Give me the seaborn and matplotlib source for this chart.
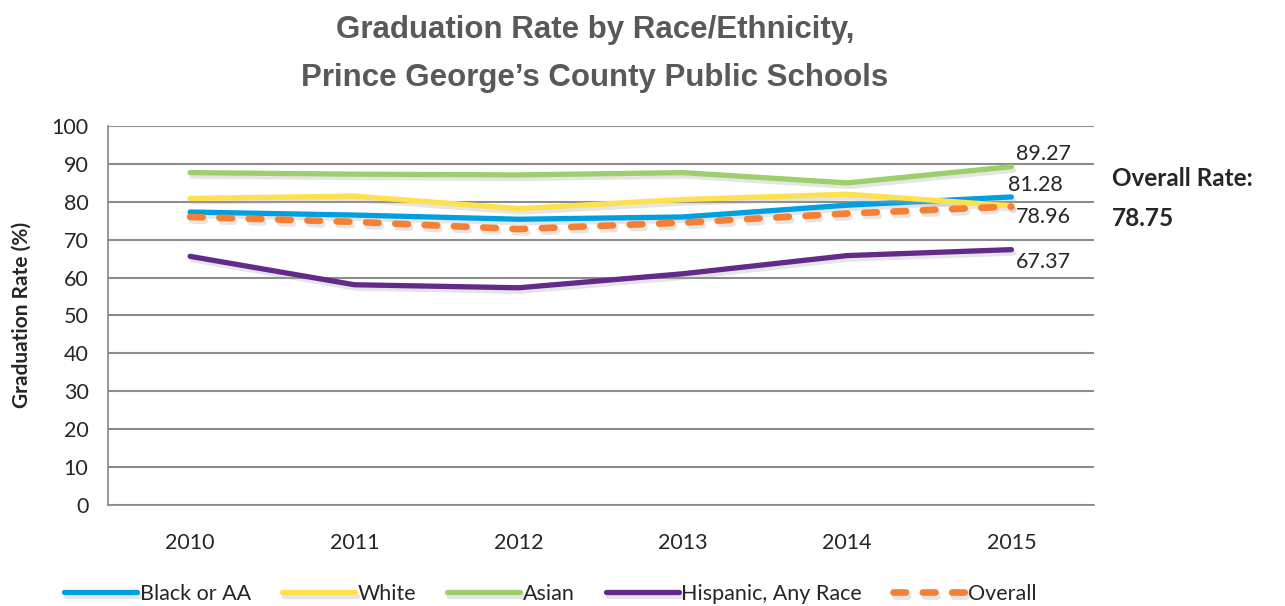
import pandas as pd
import numpy as np
import seaborn as sns
import matplotlib.pyplot as plt
import matplotlib.patheffects as pe

# Data
years = ["2010", "2011", "2012", "2013", "2014", "2015"]
black_aa = [77.3, 76.5, 75.4, 76.0, 79.1, 81.28]
white = [80.9, 81.5, 78.2, 80.6, 82.0, 78.96]
asian = [87.7, 87.3, 87.1, 87.7, 85.0, 89.27]
hispanic = [65.6, 58.1, 57.3, 61.0, 65.8, 67.37]
overall = [76.0, 74.7, 72.8, 74.5, 76.9, 78.75]

series_names = ["Black or AA", "White", "Asian", "Hispanic, Any Race", "Overall"]
series_vals = [black_aa, white, asian, hispanic, overall]
colors = ["#009fdf", "#ffe04d", "#9dd06a", "#632a8b", "#f58034"]

rows = []
for name, vals in zip(series_names, series_vals):
    for i, v in enumerate(vals):
        rows.append({"pos": i, "year": years[i], "rate": v, "group": name})
df = pd.DataFrame(rows)

sns.set_style("white")
plt.rcParams['font.family'] = ['Lato', 'DejaVu Sans']

fig = plt.figure(figsize=(12.85, 6.06), dpi=100)
ax = fig.add_axes([0.084, 0.167, 0.767, 0.625])

shadow = [pe.SimpleLineShadow(offset=(1.5, -2.5), shadow_color="#aaaaaa", alpha=0.3), pe.Normal()]

for name, col in zip(series_names, colors):
    sub = df[df["group"] == name]
    if name == "Overall":
        sns.lineplot(data=sub, x="pos", y="rate", color=col, linewidth=4.8, ax=ax,
                     label=name)
        line = ax.get_lines()[-1]
        line.set_dashes([1.9, 2.5])
        line.set_dash_capstyle("round")
    else:
        sns.lineplot(data=sub, x="pos", y="rate", color=col, linewidth=3.8, ax=ax,
                     label=name)
        line = ax.get_lines()[-1]
        line.set_solid_capstyle("round")
    line.set_path_effects(shadow)

ax.set_xlim(-0.5, 5.5)
ax.set_ylim(0, 100)
ax.set_yticks(range(0, 101, 10))
ax.set_xticks(range(len(years)))
ax.set_xticklabels(years)
ax.set_xticks(np.arange(-0.5, 5.6, 1), minor=True)
ax.tick_params(axis="x", which="major", length=0, labelsize=15.5, pad=20)
ax.tick_params(axis="x", which="minor", length=7, color="#868686", width=1.2, direction="out")
ax.tick_params(axis="y", length=6, color="#868686", width=1.2, direction="out",
               labelsize=15.5, pad=8)
ax.set_xlabel("")
ax.set_ylabel("Graduation Rate (%)", fontsize=15, fontweight="bold", labelpad=14)

ax.yaxis.grid(True, color="#8c8c8c", linewidth=1.5)
ax.set_axisbelow(True)
for s in ["top", "right"]:
    ax.spines[s].set_visible(False)
for s in ["left", "bottom"]:
    ax.spines[s].set_color("#868686")
    ax.spines[s].set_linewidth(1.2)

# End-of-line data labels
last = len(years) - 1
ax.text(last + 0.03, asian[-1] + 0.8, f"{asian[-1]:.2f}", fontsize=15.5, va="bottom", ha="left")
ax.text(last - 0.02, black_aa[-1] + 0.6, f"{black_aa[-1]:.2f}", fontsize=15.5, va="bottom", ha="left")
ax.text(last + 0.03, white[-1] - 0.4, f"{white[-1]:.2f}", fontsize=15.5, va="top", ha="left")
ax.text(last + 0.03, hispanic[-1] - 0.6, f"{hispanic[-1]:.2f}", fontsize=15.5, va="top", ha="left")

fig.text(0.865, 0.706, "Overall Rate:", fontsize=17.5, fontweight="bold", va="center", ha="left")
fig.text(0.865, 0.640, f"{overall[-1]:.2f}", fontsize=17.5, fontweight="bold", va="center", ha="left")

fig.text(0.463, 0.95, "Graduation Rate by Race/Ethnicity,", fontsize=22.5, fontweight="bold",
         color="#595959", ha="center", va="center", family="Liberation Sans")
fig.text(0.463, 0.871, "Prince George\u2019s County Public Schools", fontsize=22.5, fontweight="bold",
         color="#595959", ha="center", va="center", family="Liberation Sans")

leg = ax.legend(loc="center", bbox_to_anchor=(0.449, -0.235), ncol=5, frameon=False,
                fontsize=15.5, handlelength=3.4, handletextpad=0.1, columnspacing=1.45)

fig.savefig("out.png", dpi=100)
